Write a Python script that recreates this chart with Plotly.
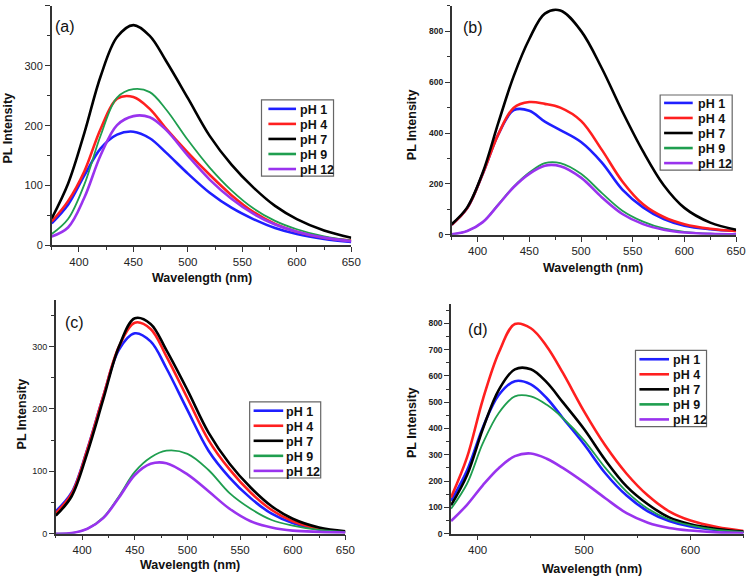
import plotly.graph_objects as go

WL = [375, 390, 405, 420, 435, 450, 465, 480, 500, 520, 540, 560, 580, 600, 625, 650]
SERIES = ["pH 1", "pH 4", "pH 7", "pH 9", "pH 12"]
COLORS = ["#1f1fff", "#ff1f1f", "#000000", "#1f9e4f", "#9933ee"]
WIDTHS = [2.6, 2.6, 2.6, 1.8, 2.6]

# panel (a)
a_pH1 = [37, 68, 117, 162, 185, 190, 179, 155, 120, 88, 63, 44, 29, 19, 11, 6]
a_pH4 = [40, 74, 124, 195, 245, 248, 228, 195, 155, 118, 84, 56, 36, 23, 13, 8]
a_pH7 = [45, 103, 188, 283, 348, 368, 350, 308, 246, 183, 135, 97, 66, 44, 25, 13]
a_pH9 = [19, 44, 102, 184, 247, 261, 256, 227, 176, 130, 92, 62, 41, 27, 15, 8]
a_pH12 = [15, 30, 80, 151, 201, 216, 214, 193, 150, 110, 78, 53, 35, 23, 13, 7]
# panel (b)
b_pH1 = [40, 105, 240, 395, 490, 488, 445, 412, 365, 285, 178, 108, 62, 36, 22, 15]
b_pH4 = [40, 105, 240, 395, 500, 522, 515, 500, 448, 335, 210, 120, 70, 42, 24, 15]
b_pH7 = [42, 108, 245, 440, 625, 770, 870, 882, 802, 656, 485, 328, 195, 106, 48, 20]
b_pH9 = [2, 15, 50, 120, 190, 245, 282, 282, 240, 165, 95, 52, 25, 12, 5, 3]
b_pH12 = [2, 15, 50, 118, 188, 240, 272, 270, 225, 148, 82, 42, 20, 9, 4, 2]
# panel (c)
c_pH1 = [36, 66, 136, 220, 295, 321, 308, 265, 198, 133, 90, 57, 32, 17, 7, 3]
c_pH4 = [33, 64, 135, 220, 300, 338, 328, 284, 217, 150, 103, 66, 38, 20, 8, 3]
c_pH7 = [29, 60, 130, 215, 300, 345, 336, 294, 230, 162, 112, 74, 44, 24, 10, 4]
c_pH9 = [0, 1, 8, 26, 60, 99, 122, 133, 128, 102, 65, 40, 22, 13, 6, 3]
c_pH12 = [0, 1, 8, 25, 58, 94, 112, 113, 95, 68, 40, 20, 10, 5, 3, 2]
# panel (d)
d_pH1 = [125, 240, 405, 528, 580, 568, 515, 440, 340, 230, 145, 85, 48, 28, 14, 6]
d_pH4 = [138, 290, 512, 690, 797, 781, 712, 612, 465, 335, 228, 145, 85, 50, 25, 10]
d_pH7 = [108, 222, 400, 548, 625, 625, 575, 500, 398, 280, 180, 112, 62, 36, 18, 8]
d_pH9 = [95, 190, 345, 460, 522, 522, 490, 440, 355, 250, 160, 95, 54, 32, 15, 7]
d_pH12 = [48, 110, 185, 250, 295, 305, 285, 250, 195, 135, 78, 42, 22, 12, 5, 3]

PANELS = [
    ("(a)", [a_pH1, a_pH4, a_pH7, a_pH9, a_pH12]),
    ("(b)", [b_pH1, b_pH4, b_pH7, b_pH9, b_pH12]),
    ("(c)", [c_pH1, c_pH4, c_pH7, c_pH9, c_pH12]),
    ("(d)", [d_pH1, d_pH4, d_pH7, d_pH9, d_pH12]),
]

W, H = 756, 580
def px(x):
    return x / W
def py(y):
    return 1 - y / H

# layout geometry in pixels: (x0, x1, ybottom, ytop)
GEOM = [
    (52.4, 356, 248, 6),
    (457.8, 746, 237.3, 6),
    (56.6, 350, 539.3, 302.7),
    (457.1, 753.6, 539.3, 306.7),
]
YRANGE = [(0, 400), (0, 900), (0, 375), (0, 875)]
YDTICK = [100, 200, 100, 100]
XDTICK = [50, 50, 50, 100]
YFONT = [11, 8.5, 9, 8.5]
# legend box: (x0, x1, y0, y1, line_x0, line_x1, text_x, first_row_y)
LEG = [
    (265, 338, 101, 178, 272, 300, 302, 110),
    (669, 742, 96, 172, 673, 702, 705, 104),
    (253, 325, 406, 483, 257, 287, 288, 415),
    (644, 716, 354, 431, 648, 678, 680, 363),
]
ROWSTEP = 15.2
LABEL_POS = [(66, 27), (479, 28), (76, 326), (484, 333)]
XTITLE = [(205, 281), (601, 271), (193, 571), (600, 575)]
YTITLE = [(8, 129), (417, 126), (22, 418), (417, 427)]

FONT = "Liberation Sans, Arial, sans-serif"
fig = go.Figure()
annotations = []
shapes = []
layout = dict(width=W, height=H, margin=dict(l=0, r=0, t=0, b=0),
              paper_bgcolor="white", plot_bgcolor="white", showlegend=False)

def note(text, x, y, size, angle=0, xanchor="center"):
    return dict(text=text, x=px(x), y=py(y), xref="paper", yref="paper",
                xanchor=xanchor, yanchor="middle", showarrow=False,
                textangle=angle, font=dict(family=FONT, size=size, color="#111"))

for i, (label, data) in enumerate(PANELS):
    n = "" if i == 0 else str(i + 1)
    for name, vals, col, w in zip(SERIES, data, COLORS, WIDTHS):
        fig.add_trace(go.Scatter(
            x=WL, y=vals, mode="lines", name=name,
            line=dict(color=col, width=w, shape="spline", smoothing=1.0),
            xaxis="x" + n, yaxis="y" + n))
    x0, x1, yb, yt = GEOM[i]
    axcommon = dict(showline=True, linecolor="#333", linewidth=1.5,
                    ticks="outside", ticklen=5, tickwidth=1.2, tickcolor="#333",
                    showgrid=False, zeroline=False, mirror=False)
    layout["xaxis" + n] = dict(
        domain=[px(x0), px(x1)], range=[375, 650], anchor="y" + n,
        tick0=400, dtick=XDTICK[i],
        minor=dict(ticks="outside", ticklen=3, tickcolor="#333",
                   dtick=XDTICK[i] / 2, tick0=375 if XDTICK[i] == 50 else 350),
        tickfont=dict(family=FONT, size=11.5, color="#222"), **axcommon)
    layout["yaxis" + n] = dict(
        domain=[py(yb), py(yt)], range=list(YRANGE[i]), anchor="x" + n,
        tick0=0, dtick=YDTICK[i],
        minor=dict(ticks="outside", ticklen=3, tickcolor="#333", dtick=YDTICK[i] / 2),
        tickfont=dict(family=FONT, size=YFONT[i], color="#222",
                      weight="bold" if i in (1, 3) else "normal"), **axcommon)

    # legend box
    bx0, bx1, by0, by1, lx0, lx1, tx, ry = LEG[i]
    shapes.append(dict(type="rect", xref="paper", yref="paper",
                       x0=px(bx0), x1=px(bx1), y0=py(by1), y1=py(by0),
                       line=dict(color="#666", width=1.2), fillcolor="rgba(0,0,0,0)"))
    for k, (name, col) in enumerate(zip(SERIES, COLORS)):
        yy = ry + k * ROWSTEP
        shapes.append(dict(type="line", xref="paper", yref="paper",
                           x0=px(lx0), x1=px(lx1), y0=py(yy), y1=py(yy),
                           line=dict(color=col, width=2.6)))
        annotations.append(note("<b>" + name + "</b>", tx, yy + 1, 12.5, xanchor="left"))

    annotations.append(note(label, LABEL_POS[i][0], LABEL_POS[i][1], 16))
    annotations.append(note("<b>Wavelength (nm)</b>", XTITLE[i][0], XTITLE[i][1], 12.5))
    annotations.append(note("<b>PL Intensity</b>", YTITLE[i][0], YTITLE[i][1], 12.5, angle=-90))

layout["annotations"] = annotations
layout["shapes"] = shapes
fig.update_layout(**layout)
fig.write_html("out.html", config={"displayModeBar": False},
               post_script="document.body.style.margin='0';document.body.style.padding='0';")
